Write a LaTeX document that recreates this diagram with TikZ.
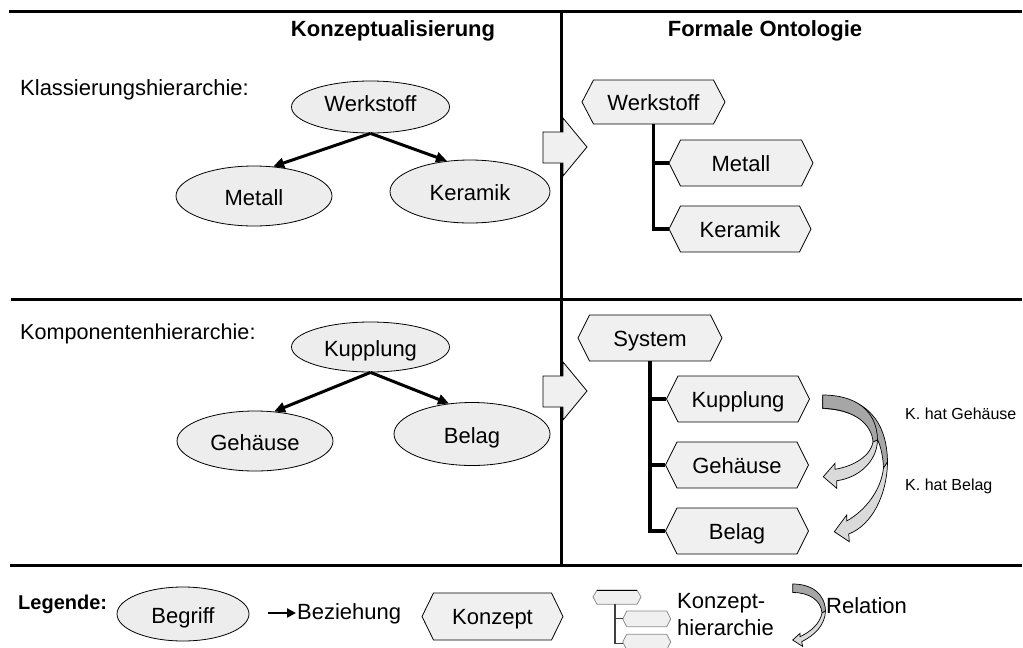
\documentclass[tikz,border=0pt]{standalone}
\usepackage{fontspec}
\setmainfont{Liberation Sans}
\usetikzlibrary{shapes.geometric,arrows.meta}

\definecolor{boxfill}{HTML}{F0F0F0}
\definecolor{ellfill}{HTML}{EDEDED}
\definecolor{ribdark}{HTML}{A6A6A6}
\definecolor{riblight}{HTML}{DADADA}
\definecolor{icongray}{HTML}{8C8C8C}

\tikzset{
  big/.style={font=\fontsize{22}{26}\selectfont},
  small/.style={font=\fontsize{16}{19}\selectfont},
  sepline/.style={line width=3pt},
  begriff/.style={ellipse, draw, fill=ellfill, line width=0.8pt, inner sep=0pt,
    big, text height=20pt, text depth=1.2pt},
  raised/.style={text height=12pt, text depth=3pt},
  hexshape/.style={draw, fill=boxfill, line width=0.8pt, line join=miter},
  hextext/.style={inner sep=0pt, big, text height=18pt, text depth=1.2pt},
  beziehung/.style={line width=3pt, -{Triangle[length=11pt,width=10pt]}},
  treeline/.style={line width=3.5pt},
  blockarrow/.style={draw, fill=boxfill, line width=0.8pt, line join=miter},
  ribback/.style={draw, fill=ribdark, line width=0.7pt, line join=round},
  ribfront/.style={draw, fill=riblight, line width=0.7pt, line join=miter},
  label/.style={big, inner sep=0pt, anchor=west},
}

% hexagonal concept box: name, cx, cy, width, height, point depth, text
\newcommand{\hexnode}[7]{%
  \path[hexshape] (#2-#4/2,#3) -- (#2-#4/2+#6,#3-#5/2) -- (#2+#4/2-#6,#3-#5/2)
    -- (#2+#4/2,#3) -- (#2+#4/2-#6,#3+#5/2) -- (#2-#4/2+#6,#3+#5/2) -- cycle;
  \node[hextext, minimum width=#4, minimum height=#5] (#1) at (#2,#3) {#7};
}

\begin{document}
\begin{tikzpicture}[x=1pt, y=-1pt]
\useasboundingbox (0,0) rectangle (1023,648);

% frame lines
\coordinate (tl) at (9,11);    \coordinate (tr) at (1022,11);
\coordinate (ml) at (11,299);  \coordinate (mr) at (1022,299);
\coordinate (bl) at (10,565.5);\coordinate (br) at (1022,565.5);
\coordinate (vt) at (561.5,11);\coordinate (vb) at (561.5,565.5);
\draw[sepline] (tl) -- (tr);
\draw[sepline] (ml) -- (mr);
\draw[sepline] (bl) -- (br);
\draw[sepline] (vt) -- (vb);

% headings
\node[big, font=\fontsize{22}{26}\selectfont\bfseries] (h1) at (393,31) {Konzeptualisierung};
\node[big, font=\fontsize{22}{26}\selectfont\bfseries] (h2) at (765,31) {Formale Ontologie};
\node[label] (l1) at (20,90) {Klassierungshierarchie:};
\node[label, font=\fontsize{21.6}{26}\selectfont] (l2) at (20,334) {Komponentenhierarchie:};

% concept level: classification
\node[begriff, raised, minimum width=158, minimum height=52] (eW) at (370.5,107) {Werkstoff};
\node[begriff, minimum width=156, minimum height=60] (eM) at (254,196) {Metall};
\node[begriff, minimum width=160, minimum height=63] (eK) at (470,191.5) {Keramik};
\draw[beziehung] (eW.south) -- (eM.57);
\draw[beziehung] (eW.south) -- (eK.127);

% concept level: components
\node[begriff, minimum width=158, minimum height=50] (eKu) at (370.5,347) {Kupplung};
\node[begriff, minimum width=156, minimum height=60] (eG) at (255,441) {Gehäuse};
\node[begriff, minimum width=156, minimum height=63] (eB) at (472,434) {Belag};
\draw[beziehung] (eKu.south) -- (eG.57);
\draw[beziehung] (eKu.south) -- (eB.127);

% transformation arrows
\path[blockarrow] (543,132) -- (563,132) -- (563,118) -- (587,147) -- (563,176)
  -- (563,163) -- (543,163) -- cycle;
\path[blockarrow] (543,376) -- (563,376) -- (563,362) -- (587,391) -- (563,420)
  -- (563,407) -- (543,407) -- cycle;

% formal ontology: classification
\hexnode{hW}{653.5}{102}{143}{44}{11.5}{Werkstoff}
\hexnode{hM}{741}{163}{144}{46}{11.5}{Metall}
\hexnode{hK}{740}{229}{142}{46}{11.5}{Keramik}
\draw[treeline] (hW.south) -- (hW.south |- hK.west) -- (hK.west);
\draw[treeline] (hW.south |- hM.west) -- (hM.west);

% formal ontology: components
\hexnode{hS}{650}{338}{144}{46}{11.5}{System}
\hexnode{hKu}{738}{399}{143}{46}{11.5}{Kupplung}
\hexnode{hG}{737}{465}{143}{46}{11.5}{Gehäuse}
\hexnode{hB}{737}{531}{143}{46}{11.5}{Belag}
\draw[treeline] (hS.south) -- (hS.south |- hB.west) -- (hB.west);
\draw[treeline] (hS.south |- hKu.west) -- (hKu.west);
\draw[treeline] (hS.south |- hG.west) -- (hG.west);

% relations
\filldraw[ribback] (822.7,396) .. controls (865,396) and (887,420) .. (887.5,462)
  -- (883.5,468) .. controls (882,430) and (862,410) .. (822.7,408.5) -- cycle;
\filldraw[ribfront] (887.5,462) .. controls (887,495) and (872,525) .. (848.7,534)
  -- (849.3,541.7) -- (834.3,531.7) -- (846.7,515) -- (846.7,521)
  .. controls (866,510) and (881,490) .. (883.5,468) -- cycle;
\filldraw[ribback] (822.7,395) .. controls (855,395) and (877,410) .. (877.5,440)
  -- (873,442) .. controls (872,425) and (855,409) .. (822.7,408.3) -- cycle;
\filldraw[ribfront] (877.5,440) .. controls (877,462) and (858,478) .. (836.7,480.7)
  -- (836.7,488.3) -- (823.3,476.7) -- (835,463.3) -- (835,469.3)
  .. controls (855,466) and (871,455) .. (873,442) -- cycle;
\node[small, anchor=west, inner sep=0pt] (r1) at (905,414) {K. hat Gehäuse};
\node[small, anchor=west, inner sep=0pt] (r2) at (905,486) {K. hat Belag};

% legend
\node[big, font=\fontsize{20}{24}\selectfont\bfseries, anchor=west, inner sep=0pt] (lg) at (18,604) {Legende:};
\node[begriff, minimum width=132, minimum height=54] (lb) at (183,614) {Begriff};
\coordinate (la1) at (268,613);
\coordinate (la2) at (296,613);
\draw[line width=2.5pt, -{Triangle[length=9pt,width=9pt]}] (la1) -- (la2);
\node[label] (lbz) at (297,614) {Beziehung};
\hexnode{lk}{492.5}{616.5}{141}{47}{11.5}{Konzept}

% legend: hierarchy icon
\path[draw=icongray, fill=boxfill, line width=0.8pt] (593,597) -- (597,590) -- (637,590) -- (641,597) -- (637,604.3) -- (597,604.3) -- cycle;
\path[draw=icongray, fill=boxfill, line width=0.8pt] (622.7,619) -- (626.7,611) -- (666.7,611) -- (670.7,619) -- (666.7,626.7) -- (626.7,626.7) -- cycle;
\path[draw=icongray, fill=boxfill, line width=0.8pt] (622.7,642) -- (626.7,634.3) -- (666.7,634.3) -- (670.7,642) -- (666.7,649.7) -- (626.7,649.7) -- cycle;
\draw[line width=0.9pt] (597,590) -- (637,590);
\coordinate (it) at (615,604.3);
\coordinate (i1) at (622.7,618.3);
\coordinate (i2) at (622.7,643.3);
\draw[line width=1.2pt, black!75] (it) -- (it |- i2) -- (i2);
\draw[line width=1.2pt, black!75] (it |- i1) -- (i1);
\node[label] (lh1) at (677,603) {Konzept-};
\node[label] (lh2) at (677,628) {hierarchie};

% legend: relation arrow
\filldraw[ribback] (792.7,584) .. controls (812,584) and (825,594) .. (825.5,611)
  -- (822,613) .. controls (821,600) and (809,592.5) .. (792.7,592.5) -- cycle;
\filldraw[ribfront] (825.5,611) .. controls (825,625) and (815,635) .. (801.7,641.7)
  -- (802.7,646.5) -- (792.7,640) -- (800,633.3) -- (800,636.7)
  .. controls (812,631) and (820,623) .. (822,613) -- cycle;
\node[label] (lr) at (826,606) {Relation};
\end{tikzpicture}
\end{document}
